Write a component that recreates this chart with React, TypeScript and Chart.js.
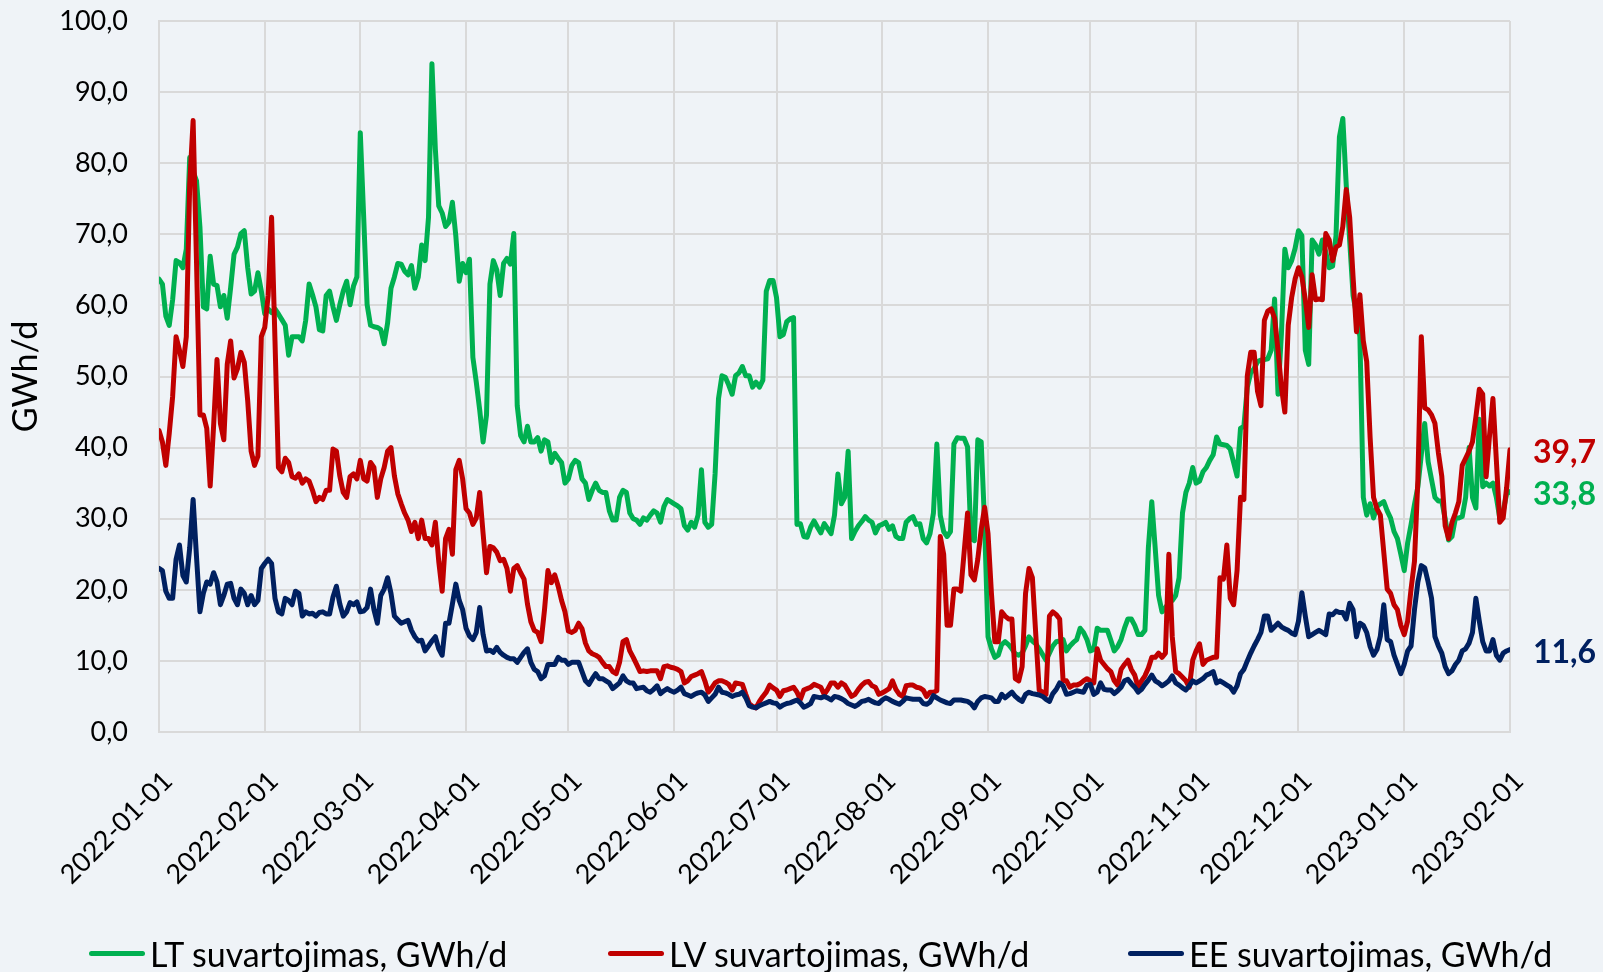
import React, { useEffect, useRef } from "react";
import { Chart, registerables } from "chart.js";

Chart.register(...registerables);

const FONT = "Lato, 'Open Sans', sans-serif";
const BG = "#EFF3F7";
const GRID = "#D9D9D9";

// x axis: day index since 2022-01-01, ticks at month starts
const X_TICK_DAYS = [0, 31, 59, 90, 120, 151, 181, 212, 243, 273, 304, 334, 365, 396];
const X_TICK_LABELS = [
  "2022-01-01", "2022-02-01", "2022-03-01", "2022-04-01", "2022-05-01", "2022-06-01", "2022-07-01",
  "2022-08-01", "2022-09-01", "2022-10-01", "2022-11-01", "2022-12-01", "2023-01-01", "2023-02-01",
];
const Y_TICKS = [0, 10, 20, 30, 40, 50, 60, 70, 80, 90, 100];

const SERIES_LABELS = ["LT suvartojimas, GWh/d", "LV suvartojimas, GWh/d", "EE suvartojimas, GWh/d"];
const SERIES_COLORS = ["#00B050", "#C00000", "#002060"];

// daily values 2022-01-01 .. 2023-02-01
const LT = [
  63.7, 63.0, 58.5, 57.2, 60.8, 66.3, 66.0, 65.3, 67.9, 80.8,
  78.8, 77.5, 71.0, 59.8, 59.5, 66.9, 63.0, 62.8, 59.8, 61.4,
  58.2, 62.5, 67.2, 68.2, 70.1, 70.5, 65.3, 61.6, 62.0, 64.6,
  62.0, 58.8, 59.5, 59.0, 59.5, 58.8, 58.0, 57.2, 53.0, 55.6,
  55.6, 55.6, 55.0, 57.9, 63.0, 61.5, 59.8, 56.6, 56.4, 61.4,
  62.0, 59.8, 57.9, 60.1, 62.0, 63.4, 60.1, 62.7, 64.0, 84.3,
  72.4, 60.1, 57.2, 57.0, 56.9, 56.6, 54.6, 57.5, 62.4, 64.0,
  65.9, 65.8, 64.8, 64.3, 65.6, 62.4, 64.0, 68.5, 66.3, 72.4,
  94.0, 82.0, 74.0, 73.0, 71.1, 71.7, 74.5, 69.8, 63.4, 65.9,
  64.6, 66.5, 52.7, 49.2, 45.3, 40.8, 44.6, 63.0, 66.3, 65.0,
  61.4, 65.9, 66.6, 65.8, 70.1, 45.9, 41.7, 40.8, 43.0, 40.8,
  40.8, 41.4, 39.5, 41.1, 40.8, 37.9, 39.2, 38.5, 37.9, 35.0,
  35.6, 37.5, 38.2, 37.9, 35.6, 35.0, 32.7, 34.0, 35.0, 34.0,
  33.7, 33.7, 31.1, 29.8, 29.8, 33.0, 34.0, 33.7, 30.8, 30.0,
  29.8, 29.2, 30.1, 29.8, 30.5, 31.1, 30.8, 29.5, 31.7, 32.7,
  32.4, 32.1, 31.8, 31.4, 29.0, 28.4, 29.5, 28.8, 30.5, 36.9,
  29.5, 28.8, 29.2, 36.3, 46.9, 50.1, 49.9, 48.8, 47.5, 50.1,
  50.5, 51.4, 50.1, 50.1, 48.5, 49.2, 48.5, 49.5, 62.0, 63.5,
  63.5, 61.1, 55.6, 55.9, 57.7, 58.1, 58.3, 29.2, 29.3, 27.5,
  27.4, 28.8, 29.7, 28.8, 28.0, 29.3, 28.6, 27.9, 30.5, 36.3,
  32.1, 33.0, 39.5, 27.2, 28.2, 29.0, 29.6, 30.3, 29.8, 29.5,
  28.0, 29.0, 29.2, 29.5, 28.5, 29.0, 27.5, 27.2, 27.2, 29.5,
  30.0, 30.3, 29.2, 29.3, 27.2, 26.6, 27.9, 30.8, 40.5, 30.5,
  28.2, 27.5, 28.2, 40.5, 41.4, 41.3, 41.3, 40.1, 27.2, 26.9,
  41.1, 40.8, 29.2, 13.4, 11.7, 10.5, 10.8, 12.3, 12.7, 12.3,
  11.7, 11.0, 10.8, 11.1, 12.1, 13.4, 12.8, 12.4, 11.7, 10.9,
  10.1, 11.1, 12.1, 12.7, 12.8, 13.0, 11.4, 12.1, 12.6, 13.0,
  14.6, 14.0, 13.0, 11.4, 11.6, 14.6, 14.3, 14.3, 14.3, 12.9,
  11.4, 12.0, 13.0, 14.6, 15.9, 15.9, 15.0, 13.7, 13.7, 14.3,
  25.9, 32.4, 25.9, 19.2, 16.9, 17.5, 18.2, 18.5, 19.2, 21.7,
  30.8, 33.7, 35.0, 37.2, 35.0, 35.3, 36.6, 37.2, 38.2, 39.0,
  41.5, 40.5, 40.4, 40.3, 39.8, 37.9, 36.0, 42.7, 43.0, 48.5,
  50.5, 51.1, 52.1, 52.3, 52.4, 52.5, 53.7, 60.9, 47.5, 56.0,
  67.9, 65.3, 66.3, 68.0, 70.5, 69.8, 53.7, 51.7, 69.2, 68.5,
  67.2, 69.2, 67.5, 65.3, 65.5, 69.8, 83.7, 86.3, 76.9, 69.2,
  61.4, 58.8, 55.6, 33.0, 30.5, 32.1, 30.1, 31.7, 32.1, 32.4,
  31.1, 30.1, 28.2, 27.2, 25.0, 22.7, 26.6, 29.2, 32.0, 34.5,
  39.0, 43.4, 38.0, 35.5, 33.0, 32.5, 32.5, 30.0, 27.0, 27.5,
  30.1, 30.1, 30.3, 33.0, 40.0, 33.0, 31.5, 44.0, 34.5, 35.0,
  34.6, 35.0, 33.0, 30.1, 31.0, 33.5, 33.8,
];

const LV = [
  42.4, 40.8, 37.5, 42.0, 47.2, 55.6, 53.7, 51.4, 55.6, 77.0,
  86.0, 66.0, 44.6, 44.6, 42.7, 34.6, 43.0, 52.4, 43.4, 41.1,
  51.7, 55.0, 49.8, 51.1, 53.4, 52.0, 46.6, 39.5, 37.5, 38.8,
  55.6, 56.9, 61.4, 72.4, 55.0, 37.2, 36.6, 38.5, 37.9, 35.9,
  35.7, 36.3, 35.0, 35.6, 35.3, 34.0, 32.4, 33.0, 32.7, 34.0,
  34.0, 39.8, 39.5, 36.0, 33.7, 33.0, 35.9, 36.3, 35.6, 38.2,
  35.6, 35.3, 37.9, 37.2, 33.0, 35.6, 37.2, 39.5, 40.0, 36.0,
  33.5, 32.1, 30.8, 29.8, 28.2, 29.5, 27.2, 29.8, 27.2, 27.2,
  26.3, 29.5, 24.0, 19.8, 27.2, 28.5, 25.0, 36.9, 38.2, 35.6,
  31.4, 30.8, 29.2, 30.1, 33.7, 27.9, 22.4, 26.1, 25.9, 25.3,
  24.1, 24.3, 23.0, 19.8, 23.0, 23.4, 22.4, 21.5, 18.0, 15.5,
  14.3, 14.0, 12.7, 17.2, 22.7, 21.0, 22.1, 20.5, 18.5, 16.9,
  14.2, 14.0, 14.3, 15.3, 14.5, 12.5, 11.4, 11.0, 10.8, 10.5,
  9.8, 9.2, 9.2, 8.5, 8.2, 9.8, 12.7, 13.0, 11.4, 10.5,
  9.5, 8.5, 8.6, 8.5, 8.6, 8.6, 8.6, 7.5, 9.2, 9.3,
  9.1, 9.0, 8.8, 8.5, 6.9, 7.2, 7.8, 8.0, 8.2, 8.5,
  7.2, 5.6, 6.2, 6.9, 7.2, 7.2, 7.0, 6.7, 5.9, 6.9,
  6.8, 6.7, 5.3, 4.0, 3.6, 3.4, 4.3, 5.0, 5.6, 6.6,
  6.2, 5.9, 5.0, 5.8, 5.9, 6.1, 6.3, 5.6, 4.6, 5.9,
  6.1, 6.3, 6.7, 6.5, 6.3, 5.3, 6.0, 6.9, 6.9, 6.3,
  6.9, 6.6, 5.8, 5.0, 5.3, 6.0, 6.6, 7.0, 7.1, 6.5,
  6.3, 5.3, 5.5, 5.8, 6.1, 7.2, 6.0, 5.3, 5.0, 6.5,
  6.6, 6.6, 6.3, 6.2, 5.9, 5.0, 5.6, 5.6, 5.8, 27.5,
  25.0, 15.0, 15.0, 20.1, 20.1, 19.8, 25.3, 30.8, 22.1, 21.4,
  24.3, 28.5, 31.6, 27.9, 19.5, 12.7, 12.7, 16.9, 16.3, 15.9,
  15.9, 7.5, 7.2, 9.2, 19.5, 23.0, 21.7, 13.7, 5.9, 5.6,
  5.3, 16.3, 16.9, 16.5, 15.9, 7.2, 7.2, 6.3, 6.6, 6.6,
  6.8, 7.2, 7.5, 7.2, 6.9, 11.7, 10.1, 9.5, 8.9, 8.5,
  7.2, 6.6, 8.8, 9.5, 10.1, 8.8, 8.0, 6.3, 7.2, 7.9,
  9.0, 10.5, 10.5, 11.1, 10.5, 11.1, 25.0, 13.4, 8.5, 8.2,
  7.7, 7.2, 6.3, 10.1, 11.4, 12.4, 9.5, 10.1, 10.3, 10.5,
  10.5, 21.7, 21.5, 26.3, 18.8, 17.9, 22.7, 33.0, 32.7, 50.1,
  53.4, 53.4, 47.9, 45.9, 57.9, 59.2, 59.5, 58.2, 53.7, 48.5,
  45.0, 57.2, 61.1, 63.7, 65.3, 64.0, 60.8, 56.9, 64.3, 60.8,
  60.9, 60.8, 70.1, 69.2, 66.3, 68.2, 68.5, 71.1, 76.3, 72.4,
  64.0, 56.3, 61.5, 55.0, 52.1, 41.4, 33.0, 31.4, 30.5, 25.3,
  20.1, 19.5, 17.9, 17.2, 15.0, 13.7, 15.6, 20.1, 24.0, 35.6,
  55.6, 45.6, 45.3, 44.6, 43.4, 39.3, 36.0, 29.0, 27.2, 29.5,
  30.8, 32.4, 37.5, 38.5, 39.5, 40.8, 44.3, 48.2, 47.5, 35.9,
  41.7, 46.9, 38.2, 29.5, 30.1, 34.3, 39.7,
];

const EE = [
  23.0, 22.7, 19.8, 18.8, 18.8, 24.3, 26.3, 22.0, 21.1, 25.9,
  32.7, 24.6, 16.9, 19.5, 21.1, 20.8, 22.4, 21.1, 17.9, 19.2,
  20.8, 20.9, 18.8, 17.9, 20.1, 19.5, 17.9, 19.2, 17.9, 18.5,
  23.0, 23.7, 24.3, 23.7, 18.8, 16.9, 16.6, 18.8, 18.5, 17.9,
  19.8, 19.5, 16.3, 16.9, 16.6, 16.7, 16.3, 16.8, 16.9, 16.6,
  16.6, 19.0, 20.5, 18.0, 16.3, 16.9, 18.2, 17.9, 18.3, 16.9,
  17.0, 17.5, 20.1, 17.2, 15.3, 19.2, 20.1, 21.7, 19.5, 16.3,
  15.8, 15.3, 15.5, 15.7, 14.3, 13.4, 12.8, 12.9, 11.4, 12.1,
  12.8, 13.4, 11.7, 10.8, 15.3, 15.3, 18.0, 20.8, 18.5, 17.2,
  14.6, 13.5, 13.0, 14.0, 17.5, 13.7, 11.4, 11.5, 11.2, 11.9,
  11.2, 10.8, 10.5, 10.3, 10.3, 9.8, 10.5, 11.2, 11.7, 9.8,
  8.8, 8.5, 7.5, 7.9, 9.5, 9.5, 9.5, 10.5, 10.1, 10.1,
  9.5, 9.8, 9.8, 9.8, 8.5, 7.2, 6.7, 7.5, 8.2, 7.5,
  7.5, 7.2, 6.9, 6.1, 6.5, 6.9, 7.9, 7.2, 6.9, 6.9,
  6.1, 6.2, 6.3, 5.8, 5.6, 6.0, 6.5, 5.4, 5.8, 6.1,
  5.8, 5.6, 5.9, 6.3, 5.4, 5.2, 5.0, 5.3, 5.5, 5.6,
  5.2, 4.3, 4.8, 5.3, 6.3, 5.6, 5.5, 5.3, 5.0, 5.2,
  5.3, 5.6, 4.8, 3.7, 3.5, 3.4, 3.7, 3.9, 4.1, 4.3,
  4.1, 4.0, 3.5, 3.8, 4.0, 4.1, 4.3, 4.5, 4.1, 3.5,
  3.7, 4.0, 5.0, 4.9, 4.8, 5.0, 4.8, 4.5, 5.0, 4.9,
  4.7, 4.4, 4.0, 3.8, 3.6, 3.9, 4.3, 4.4, 4.6, 4.3,
  4.1, 4.0, 4.5, 4.8, 4.6, 4.3, 4.1, 3.9, 4.3, 4.8,
  4.7, 4.6, 4.6, 4.6, 4.0, 3.9, 4.2, 5.1, 4.8, 4.5,
  4.3, 4.1, 4.0, 4.5, 4.5, 4.5, 4.4, 4.3, 4.0, 3.4,
  4.3, 4.8, 5.0, 4.9, 4.8, 4.3, 4.3, 5.3, 4.8, 5.2,
  5.6, 5.0, 4.6, 4.3, 5.3, 5.6, 5.4, 5.3, 5.2, 5.0,
  4.6, 4.3, 5.4, 6.0, 6.9, 6.5, 5.3, 5.4, 5.6, 5.8,
  5.7, 5.6, 6.6, 6.7, 5.3, 5.6, 6.9, 6.0, 5.9, 5.9,
  5.4, 5.8, 6.3, 7.2, 7.4, 6.8, 6.3, 5.6, 6.0, 6.7,
  7.3, 8.0, 7.2, 6.9, 6.5, 6.8, 7.2, 7.9, 6.9, 6.6,
  6.2, 5.9, 6.5, 7.2, 6.9, 7.2, 7.5, 8.0, 8.2, 8.5,
  6.9, 7.2, 6.9, 6.6, 6.3, 5.6, 6.5, 8.2, 8.8, 10.0,
  11.1, 12.1, 13.0, 14.0, 16.3, 16.3, 14.3, 14.8, 15.3, 14.8,
  14.5, 14.3, 13.9, 13.7, 15.6, 19.6, 16.3, 13.4, 13.7, 14.0,
  14.3, 14.0, 13.7, 16.6, 16.5, 17.0, 16.8, 16.8, 15.9, 18.1,
  17.2, 13.4, 15.3, 15.0, 14.0, 12.0, 10.8, 11.6, 13.5, 17.9,
  13.0, 12.7, 10.8, 9.5, 8.2, 9.5, 11.4, 12.1, 17.2, 21.1,
  23.4, 23.1, 21.1, 18.8, 13.4, 12.1, 11.1, 9.2, 8.2, 8.6,
  9.5, 10.1, 11.4, 11.7, 12.5, 14.0, 18.8, 15.6, 12.7, 11.4,
  11.4, 13.0, 10.8, 10.1, 11.1, 11.4, 11.6,
];

const SERIES_VALUES = [LT, LV, EE];

const fmt = (v: number) => v.toFixed(1).replace(".", ",");

// legend item positions (layout only)
const LEGEND_LEFT = [89, 608, 1128];

const endLabelPlugin = {
  id: "endLabels",
  afterDatasetsDraw(chart: any) {
    const ctx = chart.ctx;
    ctx.save();
    ctx.font = `bold 32px ${FONT}`;
    ctx.textAlign = "left";
    ctx.textBaseline = "middle";
    chart.data.datasets.forEach((ds: any, i: number) => {
      const meta = chart.getDatasetMeta(i);
      const pt = meta.data[meta.data.length - 1];
      const v = ds.data[ds.data.length - 1].y;
      ctx.fillStyle = ds.borderColor;
      ctx.fillText(fmt(v), pt.x + 23, pt.y + 3);
    });
    ctx.restore();
  },
};

export default function App() {
  const ref = useRef<HTMLCanvasElement>(null);

  useEffect(() => {
    document.body.style.margin = "0";
    document.body.style.background = BG;
    const datasets = SERIES_VALUES.map((vals, i) => ({
      label: SERIES_LABELS[i],
      data: vals.map((y, x) => ({ x, y })),
      borderColor: SERIES_COLORS[i],
      backgroundColor: SERIES_COLORS[i],
      borderWidth: 5,
      borderJoinStyle: "round",
      borderCapStyle: "round",
      pointRadius: 0,
      pointHoverRadius: 0,
      fill: false,
      tension: 0,
      order: 3 - i,
    }));
    const chart = new Chart(ref.current as HTMLCanvasElement, {
      type: "line",
      data: { datasets } as any,
      options: {
        animation: false,
        responsive: false,
        devicePixelRatio: 1,
        layout: { padding: { top: 21, right: 93, bottom: 0, left: 0 } },
        plugins: { legend: { display: false }, tooltip: { enabled: false } },
        scales: {
          x: {
            type: "linear",
            min: 0,
            max: 396,
            afterBuildTicks: (s: any) => {
              s.ticks = X_TICK_DAYS.map((v) => ({ value: v }));
            },
            afterFit: (s: any) => {
              s.height = 240;
            },
            ticks: {
              autoSkip: false,
              minRotation: 45,
              maxRotation: 45,
              padding: 33,
              labelOffset: 9,
              color: "#000",
              font: { family: FONT, size: 27 },
              callback: (v: any) => {
                const i = X_TICK_DAYS.indexOf(Number(v));
                return i >= 0 ? X_TICK_LABELS[i] : "";
              },
            },
            grid: { color: GRID, lineWidth: 2, drawTicks: false },
            border: { color: GRID, width: 2 },
          },
          y: {
            min: 0,
            max: 100,
            afterBuildTicks: (s: any) => {
              s.ticks = Y_TICKS.map((v) => ({ value: v }));
            },
            afterFit: (s: any) => {
              s.width = 159;
              s.paddingTop = 0;
              s.paddingBottom = 0;
            },
            ticks: {
              padding: 31,
              color: "#000",
              font: { family: FONT, size: 27 },
              callback: (v: any) => fmt(Number(v)),
            },
            grid: { color: GRID, lineWidth: 2, drawTicks: false },
            border: { color: GRID, width: 2 },
            title: {
              display: true,
              text: "GWh/d",
              color: "#000",
              font: { family: FONT, size: 34 },
              padding: { top: 6, bottom: 0 },
            },
          },
        },
      } as any,
      plugins: [endLabelPlugin],
    });
    return () => chart.destroy();
  }, []);

  return (
    <div
      style={{
        position: "fixed",
        left: 0,
        top: 0,
        width: 1603,
        height: 972,
        background: BG,
        overflow: "hidden",
      }}
    >
      <canvas
        ref={ref}
        width={1603}
        height={972}
        style={{ position: "absolute", left: 0, top: 0, width: 1603, height: 972 }}
      />
      {SERIES_LABELS.map((name, i) => (
        <div
          key={name}
          style={{
            position: "absolute",
            left: LEGEND_LEFT[i],
            top: 933,
            height: 40,
            display: "flex",
            alignItems: "center",
            whiteSpace: "nowrap",
          }}
        >
          <div style={{ width: 56, height: 5, borderRadius: 3, background: SERIES_COLORS[i] }} />
          <span style={{ marginLeft: 5, font: `34px ${FONT}`, color: "#000" }}>{name}</span>
        </div>
      ))}
    </div>
  );
}
